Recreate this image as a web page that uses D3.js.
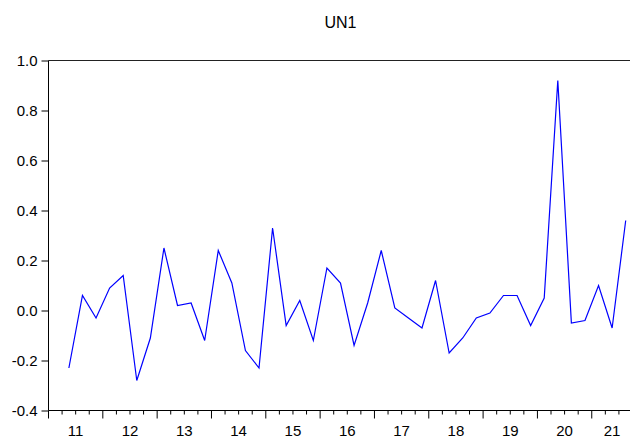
<!DOCTYPE html>
<html>
<head>
<meta charset="utf-8">
<script src="https://cdn.jsdelivr.net/npm/d3@7"></script>
<style>
  html, body { margin: 0; padding: 0; background: #fff; }
  svg { display: block; font-family: "Liberation Sans", Arial, sans-serif; }
</style>
</head>
<body>
<svg id="chart" width="630" height="437"></svg>
<script>
// ---- data ----
const title = "UN1";
const firstYear = 2011;          // axis starts at 2011Q1
const firstObsQuarter = 2;       // first observation: 2011Q2
const lastYear = 2021, lastQuarter = 3; // axis ends at 2021Q3
const yearLabels = ["11","12","13","14","15","16","17","18","19","20","21"];
const values = [
  -0.23, 0.06, -0.03, 0.09, 0.14, -0.28, -0.11, 0.25, 0.02, 0.03,
  -0.12, 0.24, 0.11, -0.16, -0.23, 0.33, -0.06, 0.04, -0.12, 0.17,
  0.11, -0.14, 0.03, 0.24, 0.01, -0.03, -0.07, 0.12, -0.17, -0.11,
  -0.03, -0.01, 0.06, 0.06, -0.06, 0.05, 0.92, -0.05, -0.04, 0.10,
  -0.07, 0.36
];
const yTicks = [-0.4, -0.2, 0.0, 0.2, 0.4, 0.6, 0.8, 1.0];

// ---- layout ----
const plotLeft = 48.5, plotRight = 632.5, plotTop = 60.5, plotBottom = 410.5;
const fontSize = 15;

const svg = d3.select("#chart");

const tStart = firstYear;
const tEnd = lastYear + lastQuarter / 4;
const x = d3.scaleLinear().domain([tStart, tEnd]).range([plotLeft, plotRight]);
const y = d3.scaleLinear().domain([-0.4, 1.0]).range([plotBottom, plotTop]);

const points = values.map((v, i) => {
  const q = (firstObsQuarter - 1) + i; // quarters since 2011Q1
  return { t: firstYear + (q + 0.5) / 4, v };
});

// title
svg.append("text")
  .attr("x", (plotLeft + plotRight) / 2)
  .attr("y", 28)
  .attr("text-anchor", "middle")
  .attr("font-size", 16)
  .attr("fill", "#000")
  .text(title);

// frame: top border
svg.append("line")
  .attr("x1", plotLeft).attr("x2", plotRight)
  .attr("y1", plotTop).attr("y2", plotTop)
  .attr("stroke", "#222").attr("stroke-width", 1.2);

// y axis
const yAxis = d3.axisLeft(y)
  .tickValues(yTicks)
  .tickSize(7)
  .tickPadding(4)
  .tickFormat(d => d3.format(".1f")(d).replace("−", "-"));
const gy = svg.append("g").attr("transform", `translate(${plotLeft},0)`).call(yAxis);
gy.select(".domain").attr("d", `M0,${plotTop}V${plotBottom}`).attr("stroke", "#000");
gy.selectAll(".tick line").attr("stroke", "#000");
gy.selectAll("text").attr("font-size", fontSize).attr("fill", "#000")
  .attr("font-family", "Liberation Sans, Arial, sans-serif");

// x axis: quarter ticks (minor) and year ticks (major)
const quarterTicks = d3.range(0, (lastYear - firstYear) * 4 + lastQuarter + 1).map(k => firstYear + k / 4);
const yearTicks = quarterTicks.filter(t => Number.isInteger(t));
const gx = svg.append("g").attr("transform", `translate(0,${plotBottom})`);
gx.append("line")
  .attr("x1", plotLeft).attr("x2", plotRight)
  .attr("stroke", "#000");
gx.selectAll("line.minor").data(quarterTicks.filter(t => !Number.isInteger(t))).enter()
  .append("line").attr("class", "minor")
  .attr("x1", d => x(d)).attr("x2", d => x(d))
  .attr("y1", 0).attr("y2", 4)
  .attr("stroke", "#000");
gx.selectAll("line.major").data(yearTicks).enter()
  .append("line").attr("class", "major")
  .attr("x1", d => x(d)).attr("x2", d => x(d))
  .attr("y1", 0).attr("y2", 8)
  .attr("stroke", "#000");
gx.selectAll("text.yl").data(yearLabels).enter()
  .append("text").attr("class", "yl")
  .attr("x", (d, i) => {
    const s = firstYear + i;
    const e = Math.min(s + 1, tEnd);
    return x((s + e) / 2);
  })
  .attr("y", 25)
  .attr("text-anchor", "middle")
  .attr("font-size", fontSize)
  .attr("fill", "#000")
  .text(d => d);

// series line
const line = d3.line().x(d => x(d.t)).y(d => y(d.v));
svg.append("path")
  .datum(points)
  .attr("d", line)
  .attr("fill", "none")
  .attr("stroke", "#0000ff")
  .attr("stroke-width", 1.2)
  .attr("stroke-linejoin", "miter");
</script>
</body>
</html>
